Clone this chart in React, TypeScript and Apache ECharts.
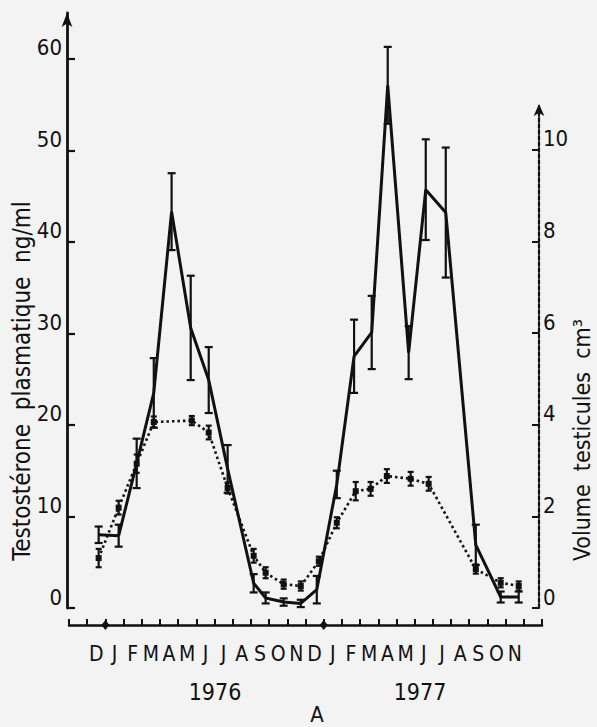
import React, { useEffect, useRef } from 'react';
import * as echarts from 'echarts';

// x positions are in months, 0 = 1 January 1976
const monthLabels = ['', 'D', 'J', 'F', 'M', 'A', 'M', 'J', 'J', 'A', 'S', 'O', 'N', 'D', 'J', 'F', 'M', 'A', 'M', 'J', 'J', 'A', 'S', 'O', 'N', ''];
const leftTicks = [0, 10, 20, 30, 40, 50, 60];
const rightTicks = [0, 2, 4, 6, 8, 10];
const yearStarts = [0, 12];
const yearLabels = ['1976', '1977'];
const panelLabel = 'A';
const leftTitle = 'Testostérone  plasmatique  ng/ml';
const rightTitle = 'Volume  testicules  cm³';

// Testostérone plasmatique (ng/ml)
const testoMonth = [-0.37, 0.73, 1.72, 2.66, 3.64, 4.69, 5.68, 6.72, 8.15, 8.81, 9.8, 10.74, 11.62, 12.72, 13.67, 14.64, 15.52, 16.67, 17.61, 18.71, 20.36, 21.73, 22.72];
const testoValue = [8.0, 7.9, 15.8, 23.5, 43.3, 30.6, 24.9, 15.2, 2.7, 1.1, 0.65, 0.5, 2.0, 13.5, 27.5, 30.1, 57.1, 27.9, 45.7, 43.2, 6.9, 1.2, 1.2];
const testoErr = [0.9, 1.2, 2.7, 3.8, 4.2, 5.7, 3.6, 2.6, 1.0, 0.6, 0.4, 0.4, 1.5, 1.5, 4.0, 4.0, 4.2, 2.9, 5.5, 7.1, 2.2, 0.6, 0.6];

// Volume testicules (cm3)
const volMonth = [-0.37, 0.73, 1.72, 2.66, 4.75, 5.68, 6.72, 8.15, 8.81, 9.8, 10.74, 11.73, 12.72, 13.76, 14.58, 15.47, 16.78, 17.77, 20.36, 21.73, 22.72];
const volValue = [1.09, 2.19, 3.15, 4.06, 4.09, 3.83, 2.62, 1.14, 0.77, 0.52, 0.48, 1.02, 1.86, 2.55, 2.6, 2.88, 2.82, 2.71, 0.85, 0.55, 0.48];
const volErr = [0.2, 0.15, 0.2, 0.12, 0.1, 0.15, 0.12, 0.15, 0.12, 0.1, 0.1, 0.1, 0.12, 0.2, 0.15, 0.15, 0.15, 0.15, 0.1, 0.1, 0.1];

const INK = '#111111';
const FONT = '"Liberation Sans Narrow", "DejaVu Sans Condensed", "Roboto Condensed", "DejaVu Sans", sans-serif';

function errorBarSeries(xs: number[], vs: number[], es: number[], xAxisIndex: number, yAxisIndex: number, cap: number) {
  return {
    type: 'custom',
    xAxisIndex,
    yAxisIndex,
    silent: true,
    clip: false,
    z: 5,
    encode: { x: 0, y: [1, 2] },
    data: xs.map((x, i) => [x, vs[i] - es[i], vs[i] + es[i]]),
    renderItem: (_params: any, api: any) => {
      const x = api.value(0);
      const lo = api.coord([x, api.value(1)]);
      const hi = api.coord([x, api.value(2)]);
      const style = { stroke: INK, lineWidth: 2.2 };
      return {
        type: 'group',
        children: [
          { type: 'line', shape: { x1: lo[0], y1: lo[1], x2: hi[0], y2: hi[1] }, style },
          { type: 'line', shape: { x1: hi[0] - cap, y1: hi[1], x2: hi[0] + cap, y2: hi[1] }, style },
          { type: 'line', shape: { x1: lo[0] - cap, y1: lo[1], x2: lo[0] + cap, y2: lo[1] }, style },
        ],
      };
    },
  };
}

export default function App() {
  const ref = useRef<HTMLDivElement>(null);
  useEffect(() => {
    if (!ref.current) return;
    const chart = echarts.init(ref.current, null, { renderer: 'svg' });
    const gridL = 69;
    const gridR = 55;
    const gridB = 119;
    chart.setOption({
      animation: false,
      backgroundColor: '#f3f3f3',
      textStyle: { fontFamily: FONT },
      grid: [
        { left: gridL, right: gridR, top: 13, bottom: gridB },
        { left: gridL, right: gridR, top: 104, bottom: gridB },
      ],
      xAxis: [
        { type: 'value', gridIndex: 0, min: -2, max: 24, show: false },
        {
          type: 'category', gridIndex: 0, data: monthLabels, position: 'bottom', offset: 17, boundaryGap: true,
          axisLine: { show: true, onZero: false, lineStyle: { color: INK, width: 2.5 } },
          axisTick: { show: true, inside: true, length: 6, interval: 0, lineStyle: { color: INK, width: 2 } },
          axisLabel: { interval: 0, color: INK, fontSize: 21, fontFamily: FONT, margin: 18 },
          splitLine: { show: false },
        },
        { type: 'value', gridIndex: 1, min: -2, max: 24, show: false },
      ],
      yAxis: [
        {
          type: 'value', gridIndex: 0, position: 'left', min: 0, max: 65, interval: 10, offset: 2,
          axisLine: { show: true, onZero: false, symbol: ['none', 'arrow'], symbolSize: [8, 14], lineStyle: { color: INK, width: 2.8 } },
          axisTick: { show: true, inside: true, length: 8, customValues: leftTicks, lineStyle: { color: INK, width: 2.2 } },
          axisLabel: { customValues: leftTicks, color: INK, fontSize: 22, fontFamily: FONT, margin: 5, verticalAlign: 'bottom' },
          splitLine: { show: false },
        },
        {
          type: 'value', gridIndex: 1, position: 'right', min: 0, max: 11, interval: 2, offset: -3,
          axisLine: { show: true, onZero: false, symbol: ['none', 'arrow'], symbolSize: [8, 12], lineStyle: { color: INK, width: 2.2, type: [4, 2] } },
          axisTick: { show: true, inside: true, length: 7, customValues: rightTicks, lineStyle: { color: INK, width: 2 } },
          axisLabel: { customValues: rightTicks, color: INK, fontSize: 22, fontFamily: FONT, margin: 4, verticalAlign: 'bottom' },
          splitLine: { show: false },
        },
      ],
      series: [
        {
          type: 'line', xAxisIndex: 0, yAxisIndex: 0, symbol: 'none', z: 4,
          data: testoMonth.map((m, i) => [m, testoValue[i]]),
          lineStyle: { color: INK, width: 3 },
        },
        errorBarSeries(testoMonth, testoValue, testoErr, 0, 0, 4),
        {
          type: 'line', xAxisIndex: 2, yAxisIndex: 1, symbol: 'rect', symbolSize: 6, z: 4,
          data: volMonth.map((m, i) => [m, volValue[i]]),
          itemStyle: { color: INK },
          lineStyle: { color: INK, width: 2.6, type: [2.5, 3] },
        },
        errorBarSeries(volMonth, volValue, volErr, 2, 1, 3),
      ],
    });

    const y0 = chart.convertToPixel({ yAxisIndex: 0 }, 0) as number;
    const axisY = y0 + 17;
    const diamonds = yearStarts.map((m) => {
      const px = chart.convertToPixel({ xAxisIndex: 0 }, m) as number;
      return {
        type: 'polygon',
        shape: { points: [[px, axisY - 5], [px + 4, axisY], [px, axisY + 5], [px - 4, axisY]] },
        style: { fill: INK },
        z: 10,
      };
    });
    const textStyle = (text: string, size: number) => ({
      text,
      font: `${size}px ${FONT}`,
      fill: INK,
      align: 'center',
      verticalAlign: 'middle',
      textAlign: 'center',
      textVerticalAlign: 'middle',
    });
    chart.setOption({
      graphic: {
        elements: [
          ...diamonds,
          { type: 'text', x: 215, y: 692, style: textStyle(yearLabels[0], 23) },
          { type: 'text', x: 420, y: 692, style: textStyle(yearLabels[1], 23) },
          { type: 'text', x: 317, y: 714, style: textStyle(panelLabel, 22) },
          { type: 'text', x: 22, y: 381, rotation: Math.PI / 2, style: textStyle(leftTitle, 24) },
          { type: 'text', x: 582, y: 440, rotation: Math.PI / 2, style: textStyle(rightTitle, 23) },
        ],
      },
    });
    return () => chart.dispose();
  }, []);
  return <div ref={ref} style={{ position: 'absolute', left: 0, top: 0, width: 597, height: 727 }} />;
}
